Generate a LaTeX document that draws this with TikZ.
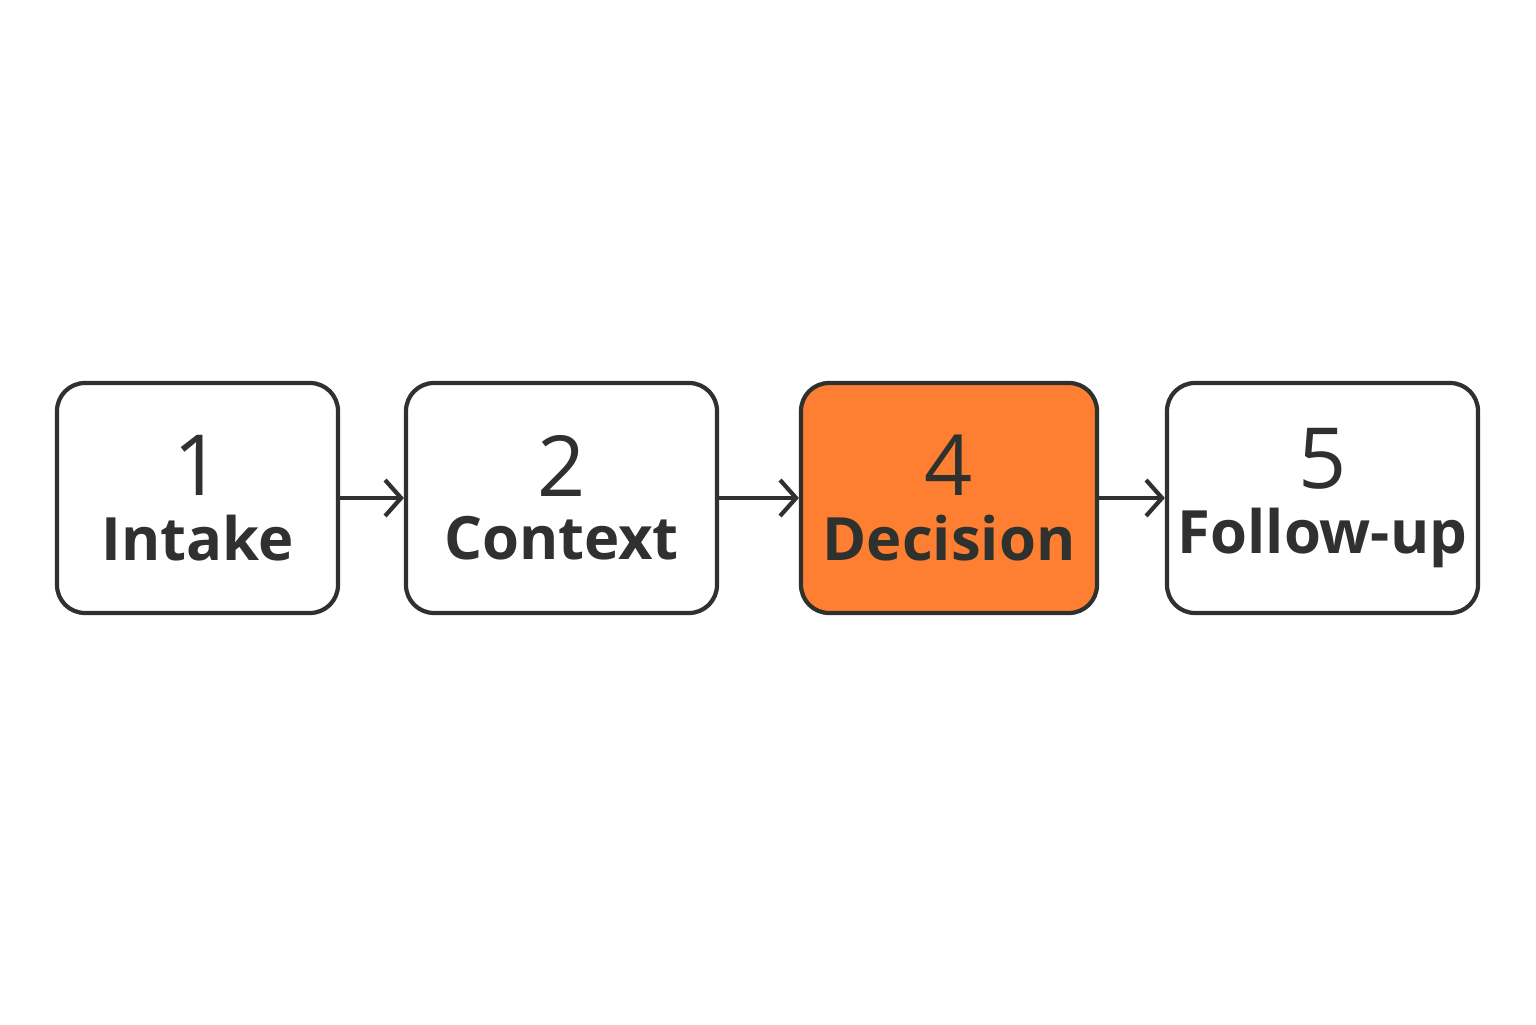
\documentclass[tikz,border=0pt]{standalone}
\usepackage{fontspec}
\setmainfont{Open Sans}
\usetikzlibrary{positioning,arrows.meta}
\definecolor{ink}{HTML}{2F312E}
\definecolor{hot}{HTML}{FF7F32}
\newcommand{\stepnum}[1]{{\fontsize{24}{24}\selectfont #1}\\[0.16cm]}
\newcommand{\steptxt}[1]{{\fontsize{17}{17}\selectfont\bfseries #1}}

\begin{document}
\begin{tikzpicture}[x=1cm,y=1cm,
                       step box/.style={rectangle,rounded corners=0.28cm,draw=ink,
                                        line width=1.2pt,fill=white,minimum height=2.3cm,
                                        align=center,text=ink,inner sep=0pt},
                       flow/.style={draw=ink,line width=1.2pt,
                                    -{Straight Barb[length=0.16cm,width=0.36cm]}}
                      ]
   \useasboundingbox (0,0) rectangle (15.36,10.24);
   \node[step box,minimum width=2.81cm] (intake) at (1.975,5.26) {\stepnum{1}\steptxt{Intake}};
   \node[step box,minimum width=3.11cm] (context) at (5.615,5.26) {\stepnum{2}\steptxt{Context}};
   \node[step box,minimum width=2.96cm,fill=hot] (decision) at (9.49,5.26) {\stepnum{4}\steptxt{Decision}};
   \node[step box,minimum width=3.11cm] (followup) at (13.225,5.26) {\stepnum{5}\steptxt{Follow-up}};

   \path%
    (intake) edge [flow] (context)
    (context) edge [flow] (decision)
    (decision) edge [flow] (followup);
  \end{tikzpicture}
\end{document}
